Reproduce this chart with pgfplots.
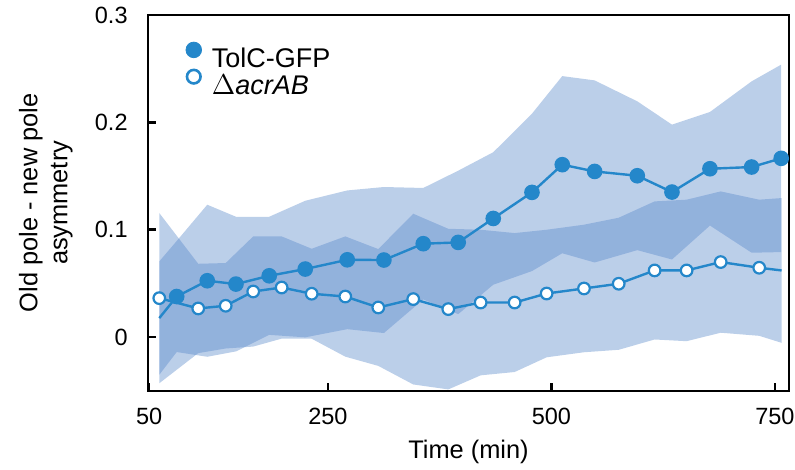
\documentclass[border=0pt]{standalone}
\usepackage{fontspec}
\setmainfont{Liberation Sans}
\usepackage{pgfplots}
\pgfplotsset{compat=1.18}
\definecolor{tolblue}{RGB}{36,135,202}
\definecolor{bandblue}{RGB}{85,134,201}
\begin{document}
\begin{tikzpicture}
\begin{axis}[
  scale only axis,
  width=320.5bp, height=187.9bp,
  xmin=48.7, xmax=765.7,
  ymin=-0.05, ymax=0.3,
  xtick={50,250,500,750},
  ytick={0,0.1,0.2,0.3},
  xtick pos=bottom, ytick pos=left,
  tick align=inside,
  major tick length=4bp,
  axis line style={line width=1.3bp},
  every tick/.style={black, line width=1.3bp},
  /pgf/number format/assume math mode=true,
  yticklabel style={/pgf/number format/fixed, font=\fontsize{11.75bp}{14bp}\selectfont, inner sep=0pt, xshift=-10bp},
  xticklabel style={font=\fontsize{11.75bp}{14bp}\selectfont, inner sep=0pt, yshift=-8.6bp},
  xlabel={Time (min)},
  xlabel style={font=\fontsize{12.7bp}{15bp}\selectfont, at={(axis description cs:0.5,-0.179)}, anchor=base, inner sep=0pt},
  ylabel={Old pole - new pole\\asymmetry},
  ylabel style={font=\fontsize{12.7bp}{15bp}\selectfont, align=center, at={(axis description cs:-0.117,0.5)}, anchor=south, inner sep=0pt},
  clip=true,
  legend style={at={(rel axis cs:0.058,0.93)}, anchor=north west, draw=none, fill=none,
    font=\fontsize{13.5bp}{16bp}\selectfont, row sep=-2.9bp, inner sep=0pt,
    cells={anchor=west},
    /tikz/every odd column/.append style={column sep=3bp}},
  legend cell align=left,
]
% band TolC-GFP (mean +/- sd)
\addplot[fill=bandblue, fill opacity=0.4, draw=none, forget plot] coordinates {
(61.3,0.0705) (80.8,0.0895) (115.0,0.1233) (147.1,0.1121) (184.3,0.1121) (224.6,0.1270) (271.6,0.1366) (312.6,0.1398) (356.6,0.1389) (395.7,0.1550) (434.9,0.1722) (478.2,0.2081) (512.1,0.2431) (548.3,0.2391) (596.0,0.2196) (634.8,0.1979) (677.3,0.2097) (723.9,0.2382) (757.0,0.2538)
(757.0,0.0792) (723.9,0.0786) (677.3,0.1039) (634.8,0.0723) (596.0,0.0810) (548.3,0.0695) (512.1,0.0781) (478.2,0.0615) (434.9,0.0488) (395.7,0.0214) (356.6,0.0351) (312.6,0.0038) (271.6,0.0074) (224.6,-0.0002) (184.3,0.0021) (147.1,-0.0133) (115.0,-0.0183) (80.8,-0.0139) (61.3,-0.0351)
} -- cycle;
% band dacrAB
\addplot[fill=bandblue, fill opacity=0.4, draw=none, forget plot] coordinates {
(61.3,0.1156) (104.9,0.0683) (135.6,0.0690) (166.4,0.0938) (198.2,0.0938) (231.8,0.0823) (269.4,0.0938) (306.3,0.0820) (345.4,0.1149) (384.6,0.1009) (420.8,0.1000) (458.8,0.0969) (494.6,0.1000) (536.4,0.1047) (575.2,0.1112) (615.4,0.1264) (651.2,0.1280) (689.3,0.1357) (732.4,0.1280) (757.4,0.1295)
(757.4,-0.0053) (732.4,0.0012) (689.3,0.0041) (651.2,-0.0038) (615.4,-0.0022) (575.2,-0.0118) (536.4,-0.0141) (494.6,-0.0188) (458.8,-0.0325) (420.8,-0.0356) (384.6,-0.0487) (345.4,-0.0441) (306.3,-0.0268) (269.4,-0.0182) (231.8,-0.0015) (198.2,-0.0014) (166.4,-0.0088) (135.6,-0.0106) (104.9,-0.0149) (61.3,-0.0430)
} -- cycle;
% dacrAB mean
\addplot[tolblue, line width=1.2bp, mark=*, mark size=2.9bp,
  mark options={fill=white, draw=tolblue, line width=1.1bp},
  mark indices={1,2,3,4,5,6,7,8,9,10,11,12,13,14,15,16,17,18,19}, forget plot] coordinates {
(61.3,0.0363) (104.9,0.0267) (135.6,0.0292) (166.4,0.0425) (198.2,0.0462) (231.8,0.0404) (269.4,0.0378) (306.3,0.0276) (345.4,0.0354) (384.6,0.0261) (420.8,0.0322) (458.8,0.0322) (494.6,0.0406) (536.4,0.0453) (575.2,0.0497) (615.4,0.0621) (651.2,0.0621) (689.3,0.0699) (732.4,0.0646) (757.4,0.0621)
};
% TolC-GFP mean
\addplot[tolblue, line width=1.2bp, mark=*, mark size=3.3bp,
  mark options={fill=tolblue, draw=none},
  mark indices={2,3,4,5,6,7,8,9,10,11,12,13,14,15,16,17,18,19}, forget plot] coordinates {
(61.3,0.0177) (80.8,0.0378) (115.0,0.0525) (147.1,0.0494) (184.3,0.0571) (224.6,0.0634) (271.6,0.0720) (312.6,0.0718) (356.6,0.0870) (395.7,0.0882) (434.9,0.1105) (478.2,0.1348) (512.1,0.1606) (548.3,0.1543) (596.0,0.1503) (634.8,0.1351) (677.3,0.1568) (723.9,0.1584) (757.0,0.1665)
};
\addlegendimage{legend image code/.code={\fill[tolblue] (3.9bp,4.6bp) circle (3.9bp);}}
\addlegendentry{TolC-GFP}
\addlegendimage{legend image code/.code={\draw[tolblue, line width=1.3bp, fill=white] (3.9bp,4.6bp) circle (3.4bp);}}
\addlegendentry{$\Delta$\textit{acrAB}}
\end{axis}
\pgfresetboundingbox
\path[use as bounding box] (-74bp,-39.6bp) rectangle (323.5bp,195.4bp);
\end{tikzpicture}
\end{document}
